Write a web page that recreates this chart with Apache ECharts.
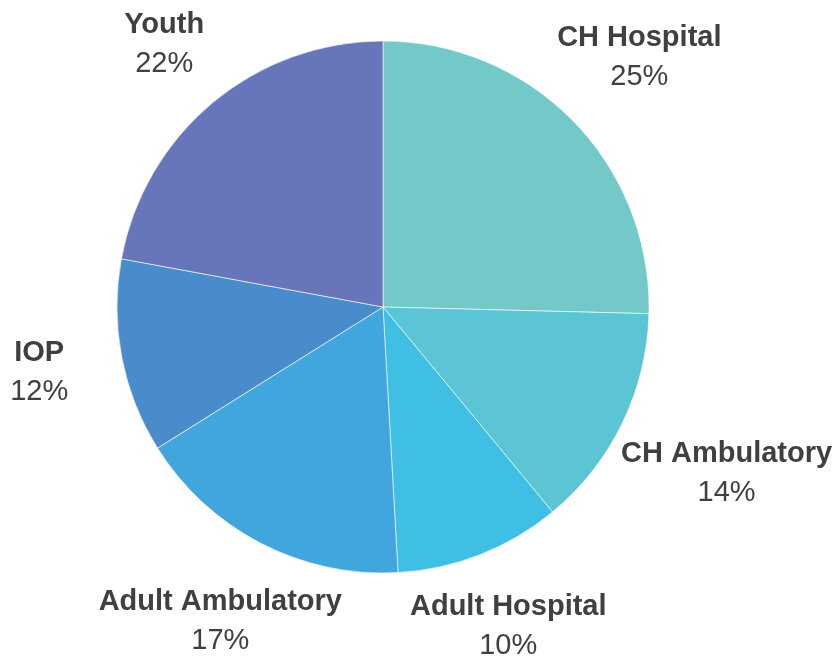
<!DOCTYPE html>
<html>
<head>
<meta charset="utf-8">
<script src="https://cdn.jsdelivr.net/npm/echarts@6/dist/echarts.min.js"></script>
<style>html,body{margin:0;padding:0;background:#fff}#c{width:834px;height:657px}</style>
</head>
<body>
<div id="c"></div>
<script>
const categories = ['CH Hospital', 'CH Ambulatory', 'Adult Hospital', 'Adult Ambulatory', 'IOP', 'Youth'];
const values = [25.4, 13.6, 10.1, 17.0, 11.8, 22.1];
const colors = ['#73C9C7', '#5BC5D6', '#3FBFE4', '#41A6DD', '#4A8CCB', '#6776BA'];
// label distance from centre (layout only)
const labelDist = [358, 382, 343, 354, 350, 342];

const CX = 383, CY = 307, R = 266;
const total = values.reduce((a, b) => a + b, 0);

const chart = echarts.init(document.getElementById('c'), null, {renderer: 'canvas'});
chart.setOption({
  animation: false,
  backgroundColor: '#fff',
  series: [{
    type: 'pie',
    center: [CX, CY],
    radius: R,
    startAngle: 90,
    clockwise: true,
    percentPrecision: 0,
    avoidLabelOverlap: false,
    itemStyle: {borderColor: '#ffffff', borderWidth: 0.6},
    label: {
      show: true,
      position: 'outside',
      formatter: '{n|{b}}\n{p|{d}%}',
      rich: {
        n: {fontFamily: 'Liberation Sans', fontWeight: 'bold', fontSize: 29, color: '#404040', lineHeight: 39, align: 'center'},
        p: {fontFamily: 'Liberation Sans', fontWeight: 'normal', fontSize: 29, color: '#404040', lineHeight: 39, align: 'center'}
      }
    },
    labelLine: {show: false},
    labelLayout: function (params) {
      const i = params.dataIndex;
      let cum = 0;
      for (let k = 0; k < i; k++) cum += values[k];
      const mid = (cum + values[i] / 2) / total * Math.PI * 2;
      const d = labelDist[i];
      return {
        x: CX + d * Math.sin(mid),
        y: CY - d * Math.cos(mid),
        align: 'center',
        verticalAlign: 'middle'
      };
    },
    emphasis: {disabled: true},
    data: categories.map((c, i) => ({name: c, value: values[i], itemStyle: {color: colors[i]}}))
  }]
});
</script>
</body>
</html>
